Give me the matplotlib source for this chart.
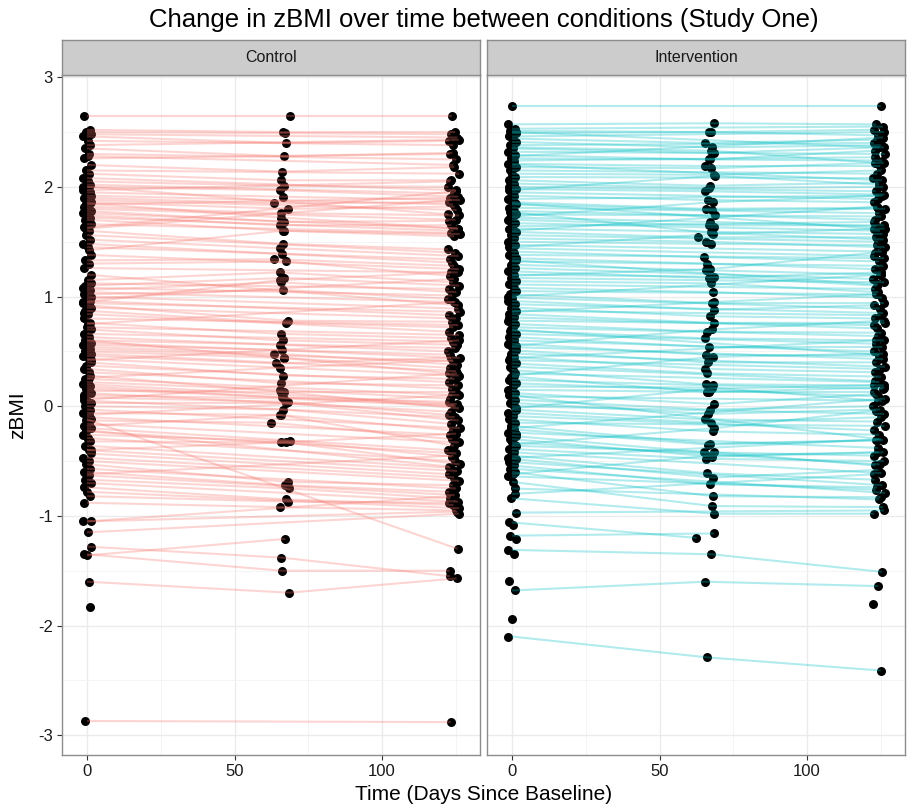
import matplotlib
matplotlib.use("Agg")
import matplotlib.pyplot as plt
from matplotlib.ticker import MultipleLocator

plt.rcParams['font.family'] = ['Liberation Sans', 'DejaVu Sans']
plt.rcParams['axes.unicode_minus'] = False

N = None

# ---- Control: zBMI at baseline / mid / final, one entry per participant
ctrl_base = [2.65, 2.52, 2.50, 2.48, 2.46, 2.42, 2.38, 2.35, 2.30, 2.26,
             2.20, 2.15, 2.12, 2.08, 2.05, 2.02, 2.00, 1.97, 1.95, 1.92,
             1.90, 1.88, 1.86, 1.84, 1.82, 1.80, 1.78, 1.76, 1.74, 1.72,
             1.70, 1.66, 1.63, 1.60, 1.56, 1.52, 1.48, 1.45, 1.38, 1.33,
             1.30, 1.26, 1.15, 1.12, 1.10, 1.08, 1.06, 1.04, 1.02, 1.00,
             0.98, 0.96, 0.94, 0.92, 0.90, 0.87, 0.84, 0.80, 0.76, 0.72,
             0.70, 0.66, 0.63, 0.60, 0.58, 0.56, 0.54, 0.52, 0.50, 0.48,
             0.46, 0.43, 0.40, 0.37, 0.34, 0.31, 0.28, 0.25, 0.22, 0.20,
             0.18, 0.16, 0.14, 0.12, 0.10, 0.08, 0.05, 0.03, 0.00, -0.03,
             -0.06, -0.10, -0.12, -0.13, -0.16, -0.18, -0.20, -0.23, -0.26, -0.29,
             -0.32, -0.36, -0.40, -0.43, -0.47, -0.50, -0.53, -0.57, -0.60, -0.63,
             -0.67, -0.70, -0.74, -0.78, -0.82, -0.88, -1.05, -1.05, -1.15, -1.28,
             -1.36, -1.35, -1.60, -1.83, -2.87, 2.28, 2.00, 1.85, 1.62, 1.42,
             1.20, 0.95, 0.75, 0.60, 0.42, 0.26, 0.06, -0.08, -0.22, -0.40,
             -0.62, 1.95, 0.85, -0.30]
ctrl_mid = [2.65, 2.50, 2.49, N, 2.40, N, N, 2.28, N, N,
            2.14, N, 2.06, N, 2.01, N, 1.97, N, 1.91, N,
            1.85, N, 1.80, N, 1.76, N, 1.68, N, 1.65, N,
            1.60, N, N, 1.48, N, 1.44, N, 1.39, N, 1.34,
            1.32, N, 1.22, N, 1.17, N, 1.13, N, 1.06, N,
            N, N, N, 0.78, N, 0.76, N, N, 0.66, N,
            0.60, N, 0.56, N, 0.51, N, 0.48, N, 0.44, N,
            0.39, N, 0.28, N, 0.21, N, 0.13, N, 0.15, N,
            0.08, N, 0.13, N, 0.07, 0.04, N, 0.03, -0.03, N,
            -0.08, N, N, -0.15, N, -0.08, N, N, -0.32, N,
            -0.33, N, N, N, N, N, -0.69, N, -0.72, N,
            -0.75, N, -0.85, N, -0.87, -0.92, N, N, N, -1.38,
            -1.21, -1.50, -1.70, N, N, N, N, 1.72, N, 1.60,
            N, 1.15, N, 0.44, N, 0.35, N, N, N, -0.33,
            N, N, N, N]
ctrl_end = [2.65, 2.50, 2.48, 2.45, 2.42, 2.38, 2.43, 2.31, 2.25, 2.30,
            2.18, 2.12, 2.06, 1.97, 2.00, 1.94, 1.91, 2.05, 1.88, 1.84,
            1.86, 1.79, 1.82, 1.90, 1.74, 1.70, 1.69, 1.62, 1.65, 1.60,
            1.57, 1.58, 1.96, 1.43, 1.40, 1.37, 1.31, 1.34, 1.25, 1.28,
            1.19, 1.22, 1.13, 1.07, 1.10, 1.01, 1.04, 0.95, 0.98, 0.89,
            1.16, 0.83, 0.86, 0.77, 0.80, 0.72, 0.68, 0.74, 0.62, 0.65,
            0.56, 0.59, 0.50, 0.53, 0.44, 0.47, 0.38, 0.41, 0.35, 0.32,
            0.44, 0.28, 0.25, 0.22, 0.19, 0.16, 0.13, 0.10, 0.07, 0.02,
            0.04, 0.01, -0.02, -0.05, 0.00, -0.08, -0.10, -0.13, -0.16, -0.20,
            -0.22, -0.26, -1.30, -0.30, -0.33, -0.36, -0.40, -0.43, -0.46, -0.50,
            -0.53, -0.56, -0.59, -0.62, -0.65, -0.68, -0.72, -0.75, -0.78, -0.81,
            -0.84, -0.87, -0.90, -0.93, -0.88, -0.95, -0.82, -0.96, -0.98, -1.55,
            N, -1.50, -1.57, N, -2.88, 2.20, 1.75, 1.62, 1.88, 1.55,
            0.92, 1.22, 0.95, 0.30, 0.60, 0.42, 0.30, 0.10, -0.55, -0.25,
            -0.45, N, N, N]
# days since baseline at which each point sits (jittered as in the picture)
ctrl_base_day = [-1.2, 0.9, -0.5, 1.3, -1.4, 0.3, 1.0, -0.8, 0.6, -1.1,
                 1.4, -0.2, 0.8, -1.3, 0.4, 1.1, -0.6, -1.5, 0.7, 1.5,
                 -0.9, 0.1, 1.2, -0.3, -1.0, 0.6, 1.4, -1.5, 0.0, 0.9,
                 -0.7, 1.3, -1.2, 0.5, -0.4, 1.1, -1.4, 0.2, 1.5, -0.8,
                 0.8, -1.1, 0.3, 1.2, -0.6, -1.3, 0.9, 0.1, -0.9, 1.4,
                 -0.2, 1.0, -1.5, 0.6, 1.3, -0.7, 0.4, -1.2, 1.1, -0.1,
                 1.5, -1.0, 0.7, -0.5, 1.2, -1.4, 0.2, 0.9, -0.8, 1.3,
                 -1.3, 0.5, 1.4, -0.3, -1.1, 0.8, 1.0, -0.6, 0.3, -1.5,
                 1.1, -0.4, 0.6, 1.5, -0.9, -1.2, 0.1, 1.3, -0.7, 0.9,
                 -1.4, 0.4, 1.2, -0.2, 0.7, -1.0, 1.4, -0.5, -1.3, 0.2,
                 1.0, -0.8, 0.5, 1.3, -1.5, 0.8, -0.3, 1.1, -1.1, 0.6,
                 -0.6, 1.5, -1.2, 0.0, 0.9, -0.9, 1.2, -1.4, 0.4, 1.4,
                 -0.1, -1.0, 0.7, 1.1, -0.7, 0.3, -1.3, 1.0, -0.4, 0.5,
                 1.3, -1.5, 0.2, -0.8, 1.2, 0.8, -1.1, 0.6, -0.2, 1.4,
                 -0.5, 0.9, -1.2, 0.3]
ctrl_mid_day = [68.9, 66.5, 67.2, 65.8, 67.6, 66.0, 68.2, 66.8, 65.5, 67.9,
                66.2, 67.4, 65.9, 68.1, 66.6, 67.0, 65.3, 68.5, 66.4, 67.7,
                63.2, 67.3, 68.0, 66.1, 65.8, 67.5, 66.7, 68.3, 65.4, 67.1,
                66.9, 65.7, 68.4, 66.3, 67.8, 65.5, 67.2, 66.0, 68.6, 63.4,
                67.4, 66.2, 65.3, 67.9, 66.8, 68.1, 65.6, 67.0, 66.5, 68.3,
                65.8, 67.6, 66.1, 68.0, 65.4, 67.3, 66.9, 68.5, 65.7, 67.1,
                66.4, 68.2, 65.5, 67.7, 66.0, 68.4, 63.3, 67.5, 66.6, 68.7,
                64.0, 67.2, 66.3, 68.1, 65.6, 67.8, 66.8, 68.6, 65.4, 67.0,
                66.1, 68.3, 65.9, 67.4, 66.7, 68.0, 65.2, 67.6, 66.4, 68.2,
                65.7, 67.1, 66.9, 62.5, 68.4, 65.5, 67.9, 66.2, 68.8, 65.8,
                67.3, 66.0, 68.5, 65.6, 67.7, 66.6, 68.1, 65.3, 67.0, 66.8,
                68.6, 65.9, 67.5, 66.3, 68.2, 65.4, 67.8, 66.5, 68.0, 65.7,
                67.2, 66.1, 68.4, 65.6, 67.4, 66.9, 68.3, 65.8, 67.6, 66.4,
                68.1, 65.5, 67.9, 66.7, 68.5, 65.3, 67.1, 66.2, 68.7, 65.9,
                67.5, 66.6, 68.0, 65.4]
ctrl_end_day = [123.6, 124.8, 123.2, 125.5, 122.7, 124.1, 126.0, 123.9, 125.2, 122.9,
                124.5, 126.2, 123.4, 125.0, 122.5, 124.3, 125.8, 123.0, 126.4, 124.0,
                122.8, 125.3, 124.6, 123.1, 126.1, 124.9, 122.6, 125.7, 123.5, 124.2,
                126.3, 123.3, 125.1, 122.4, 124.7, 125.9, 123.7, 122.9, 126.0, 124.4,
                123.0, 125.6, 124.0, 122.7, 126.2, 123.8, 125.2, 124.5, 122.5, 125.9,
                124.3, 122.8, 126.4, 123.6, 125.0, 124.1, 122.6, 125.8, 123.2, 126.1,
                125.4, 123.9, 122.5, 124.8, 126.3, 123.1, 125.5, 124.2, 122.9, 125.1,
                123.4, 126.0, 124.6, 122.7, 125.7, 123.7, 124.9, 126.2, 123.0, 125.3,
                122.8, 124.4, 126.1, 123.5, 125.0, 122.6, 124.7, 125.9, 123.3, 126.4,
                124.0, 122.9, 125.6, 123.8, 126.0, 124.3, 122.5, 125.2, 123.6, 124.8,
                126.3, 123.2, 125.4, 122.8, 124.5, 126.1, 123.9, 125.0, 122.7, 124.6,
                123.1, 125.8, 124.2, 126.2, 122.6, 124.9, 123.4, 125.5, 126.0, 123.0,
                124.7, 122.9, 125.3, 123.7, 123.3, 124.1, 122.5, 125.7, 123.5, 124.4,
                125.9, 123.3, 124.8, 122.7, 126.1, 124.0, 125.4, 123.8, 122.8, 125.1,
                124.3, 126.0, 123.6, 125.2]

# ---- Intervention
int_base = [2.74, 2.57, 2.53, 2.51, 2.49, 2.46, 2.44, 2.41, 2.38, 2.35,
            2.32, 2.29, 2.26, 2.24, 2.21, 2.18, 2.15, 2.12, 2.09, 2.06,
            2.03, 2.00, 1.98, 1.95, 1.92, 1.89, 1.86, 1.84, 1.81, 1.78,
            1.75, 1.72, 1.70, 1.67, 1.64, 1.62, 1.59, 1.56, 1.53, 1.50,
            1.47, 1.44, 1.41, 1.38, 1.35, 1.32, 1.29, 1.26, 1.23, 1.20,
            1.17, 1.14, 1.11, 1.08, 1.05, 1.02, 0.99, 0.96, 0.93, 0.90,
            0.87, 0.84, 0.81, 0.78, 0.75, 0.72, 0.69, 0.66, 0.63, 0.60,
            0.57, 0.54, 0.51, 0.48, 0.45, 0.42, 0.39, 0.36, 0.33, 0.30,
            0.27, 0.24, 0.21, 0.18, 0.15, 0.12, 0.09, 0.06, 0.03, 0.00,
            -0.03, -0.06, -0.09, -0.12, -0.15, -0.18, -0.21, -0.24, -0.27, -0.30,
            -0.33, -0.36, -0.39, -0.42, -0.45, -0.48, -0.51, -0.54, -0.57, -0.60,
            -0.64, -0.69, -0.75, -0.84, -0.97, -1.06, -1.08, -1.18, -1.21, -1.31,
            -1.35, -1.59, -1.68, -1.94, -2.10, N, 2.50, 2.36, 2.20, 1.97,
            1.85, 1.77, 1.60, 1.45, 1.33, 1.19, 1.00, 0.86, 0.70, 0.55,
            0.44, 0.28, 0.10, -0.02, -0.20, -0.35, -0.47, -0.62, -0.80, 2.05,
            1.40, 0.80, -0.25, 1.73, 2.28]
int_mid = [N, 2.58, N, 2.50, 2.50, N, 2.40, 2.36, N, 2.31,
           N, 2.25, 2.25, N, 2.19, 2.17, N, 2.11, N, 2.01,
           1.99, N, 1.96, N, 1.88, N, 1.80, 1.79, N, 1.74,
           N, 1.68, 1.65, 1.63, N, 1.59, 1.54, N, 1.50, 1.48,
           N, N, 1.36, N, 1.30, N, 1.24, N, 1.17, 1.18,
           N, 1.12, N, 1.04, N, 0.94, N, 0.88, N, 0.82,
           N, 0.76, N, N, 0.68, N, 0.62, N, 0.54, N,
           0.47, N, 0.40, N, 0.34, N, 0.30, N, 0.20, N,
           0.13, 0.19, N, 0.17, 0.13, 0.02, N, -0.03, -0.07, N,
           -0.12, -0.15, N, -0.23, N, -0.34, -0.35, N, -0.42, -0.46,
           N, -0.42, -0.48, N, -0.61, -0.65, N, -0.71, N, -0.82,
           N, -0.91, N, -0.98, N, -1.20, N, -1.16, N, -1.35,
           N, N, -1.60, N, -2.29, N, N, 2.33, N, 2.10,
           N, 1.58, N, 1.57, N, 1.25, N, 0.95, N, 0.70,
           N, 0.45, N, 0.16, N, -0.20, N, -0.45, N, N,
           N, N, N, 1.86, N]
int_end = [2.74, 2.57, 2.55, 2.52, 2.47, 2.50, 2.43, 2.38, 2.40, 2.36,
           2.30, 2.33, 2.24, 2.27, 2.19, 2.22, 2.12, 2.15, 2.08, 2.04,
           2.00, 1.96, 1.93, 1.89, 1.86, 1.92, 1.81, 1.80, 1.76, 1.70,
           1.73, 1.64, 1.65, 1.60, 1.68, 1.57, 1.54, 1.50, 1.45, 1.47,
           1.41, 1.37, 1.32, 1.35, 1.25, 1.28, 1.20, 1.16, 1.22, 1.10,
           1.13, 1.04, 1.07, 0.99, 1.02, 0.94, 0.89, 0.92, 0.85, 0.80,
           0.83, 0.76, 0.71, 0.74, 0.67, 0.64, 0.60, 0.57, 0.54, 0.50,
           0.46, 0.43, 0.40, 0.36, 0.31, 0.34, 0.27, 0.23, 0.19, 0.22,
           0.13, 0.16, 0.09, 0.05, 0.17, 0.11, 0.05, 0.00, -0.03, -0.07,
           -0.14, -0.10, -0.22, -0.26, -0.18, -0.31, -0.31, -0.38, -0.45, -0.42,
           -0.53, -0.54, -0.50, -0.61, -0.67, -0.58, -0.72, -0.74, -0.79, -0.83,
           -0.76, -0.92, -0.85, -0.98, -0.95, N, N, N, N, -1.51,
           N, N, -1.64, N, -2.41, -1.80, 2.36, 2.22, 2.06, 2.02,
           1.62, 1.52, 1.82, 1.62, 1.11, 1.40, 1.20, 1.02, 0.47, 0.78,
           0.60, 0.48, -0.30, 0.19, 0.07, -0.04, -0.30, -0.42, -0.62, N,
           N, N, N, 1.92, 2.45]
int_base_day = [-0.1, -1.4, 0.9, -0.6, 1.2, -1.1, 0.4, 1.5, -0.8, 0.2,
                -1.3, 1.0, -0.3, 0.7, -1.5, 1.3, -0.7, 0.1, 1.1, -1.0,
                0.5, -1.2, 1.4, -0.4, 0.8, -1.5, 0.3, 1.2, -0.9, 0.6,
                1.5, -0.6, -1.3, 0.9, 0.0, -1.0, 1.3, -0.2, 0.7, -1.4,
                1.1, -0.8, 0.4, -1.2, 1.4, 0.2, -0.5, 1.0, -1.5, 0.6,
                -0.3, 1.2, -1.1, 0.8, 1.5, -0.7, 0.1, -1.4, 0.9, -0.2,
                1.3, -0.9, 0.5, -1.3, 1.1, 0.3, -0.6, 1.4, -1.0, 0.7,
                -1.5, 0.0, 1.2, -0.4, 0.8, -1.2, 1.5, -0.8, 0.2, 1.0,
                -0.5, -1.1, 1.3, 0.4, -1.4, 0.9, -0.1, 1.1, -0.7, 0.6,
                1.4, -1.3, 0.3, -0.9, 1.0, -0.2, 0.7, -1.5, 1.2, -0.6,
                0.1, 1.5, -1.0, 0.5, -0.4, 1.3, -1.2, 0.8, -0.8, 1.1,
                -1.4, 0.4, 0.9, -0.3, 1.4, -1.1, 0.2, -0.7, 1.2, -1.5,
                0.6, -0.9, 1.0, -0.1, -1.3, 0.3, 1.5, -0.5, 0.8, -1.2,
                1.1, -0.6, 0.4, -1.0, 1.3, 0.0, -1.4, 0.7, -0.3, 1.2,
                -0.8, 0.5, -1.1, 1.4, -0.2, 0.9, -1.5, 0.2, 1.0, -0.7,
                0.6, -1.2, 1.3, -0.4, 0.8]
int_mid_day = [66.0, 68.4, 65.7, 67.3, 66.9, 68.0, 65.4, 67.8, 66.3, 68.6,
               65.9, 67.1, 66.6, 68.2, 65.5, 67.6, 66.1, 68.5, 65.8, 67.0,
               66.8, 68.3, 65.3, 67.4, 66.4, 68.1, 65.6, 67.9, 66.2, 68.7,
               65.9, 67.2, 66.7, 68.4, 65.4, 67.5, 63.0, 68.0, 65.7, 67.3,
               66.5, 68.6, 65.2, 67.7, 66.0, 68.2, 65.8, 67.1, 66.9, 68.5,
               65.5, 67.4, 66.3, 68.1, 65.6, 67.9, 66.6, 68.3, 65.3, 67.0,
               66.8, 68.4, 65.9, 67.6, 66.1, 68.0, 65.4, 67.2, 66.7, 68.6,
               65.7, 67.8, 66.4, 68.2, 65.5, 67.3, 66.0, 68.5, 65.8, 67.5,
               66.9, 68.1, 65.3, 67.7, 66.2, 68.4, 65.6, 67.0, 66.5, 68.7,
               65.4, 67.6, 66.8, 68.0, 65.9, 67.2, 66.3, 68.3, 65.2, 67.9,
               66.6, 68.5, 65.7, 67.4, 66.0, 68.2, 65.5, 67.1, 66.9, 68.0,
               63.5, 67.8, 66.4, 68.6, 65.3, 62.5, 66.1, 68.4, 65.8, 67.6,
               66.7, 68.1, 65.4, 67.0, 66.2, 68.3, 65.6, 67.5, 66.5, 68.7,
               65.9, 67.7, 66.3, 68.0, 65.5, 67.2, 66.8, 68.5, 65.2, 67.9,
               66.0, 68.2, 65.7, 67.4, 66.6, 68.6, 65.3, 67.1, 66.9, 68.3,
               65.8, 67.6, 66.4, 68.0, 65.5]
int_end_day = [124.9, 123.4, 125.7, 122.8, 124.2, 126.1, 123.6, 125.0, 122.6, 124.6,
               126.3, 123.1, 125.4, 122.9, 124.8, 126.0, 123.8, 125.2, 122.5, 124.3,
               125.8, 123.3, 126.2, 124.0, 122.7, 125.5, 123.9, 126.4, 124.5, 122.9,
               125.1, 123.5, 126.0, 124.7, 122.6, 125.6, 123.2, 124.1, 126.3, 123.7,
               125.3, 122.8, 124.4, 126.1, 123.0, 125.9, 124.8, 122.5, 125.0, 123.6,
               126.2, 124.2, 122.9, 125.4, 123.4, 126.0, 124.6, 122.7, 125.7, 123.1,
               124.9, 126.3, 123.8, 122.6, 125.2, 124.0, 126.1, 123.3, 125.5, 122.8,
               124.3, 125.8, 123.5, 126.4, 122.9, 124.7, 125.1, 123.0, 126.0, 124.5,
               122.7, 125.6, 123.9, 124.1, 126.2, 123.2, 125.3, 122.5, 124.8, 126.1,
               123.6, 125.0, 122.8, 124.4, 126.3, 123.4, 125.7, 124.0, 122.6, 125.9,
               124.6, 123.1, 126.0, 125.2, 122.9, 124.2, 125.5, 123.7, 126.4, 124.9,
               123.3, 125.8, 124.3, 122.7, 126.1, 123.9, 125.0, 124.7, 122.5, 125.4,
               126.2, 123.5, 124.1, 125.6, 125.0, 122.3, 126.0, 123.0, 125.3, 124.4,
               122.6, 125.9, 123.8, 126.3, 124.0, 122.9, 125.1, 123.6, 124.6, 126.1,
               123.2, 125.7, 124.5, 122.7, 126.4, 123.4, 125.2, 124.2, 122.8, 125.5,
               124.9, 123.1, 126.0, 124.3, 125.8]

panels = ["Control", "Intervention"]
line_colours = ["#F8766D", "#00BFC4"]

W, H = 907, 811
fig = plt.figure(figsize=(W / 100, H / 100), dpi=100)


def draw_panel(ax, base, mid, end, bday, mday, eday, colour):
    # points first, then lines over them (as in the original)
    px, py = [], []
    for i in range(len(base)):
        for x, y in ((bday[i], base[i]), (mday[i], mid[i]), (eday[i], end[i])):
            if y is not None:
                px.append(x)
                py.append(y)
    ax.scatter(px, py, s=42, color="black", zorder=2, linewidths=0)
    for i in range(len(base)):
        xs, ys = [], []
        if base[i] is not None:
            xs.append(0)
            ys.append(base[i])
        if mid[i] is not None:
            xs.append(mday[i])
            ys.append(mid[i])
        if end[i] is not None:
            xs.append(eday[i])
            ys.append(end[i])
        if len(xs) > 1:
            ax.plot(xs, ys, color=colour, alpha=0.3, lw=1.5, zorder=3,
                    solid_capstyle="butt")


data = [
    (ctrl_base, ctrl_mid, ctrl_end, ctrl_base_day, ctrl_mid_day, ctrl_end_day),
    (int_base, int_mid, int_end, int_base_day, int_mid_day, int_end_day),
]
lefts = [62, 487]
pw = 418
for k in range(2):
    ax = fig.add_axes([lefts[k] / W, 56 / H, pw / W, 680 / H])
    draw_panel(ax, *data[k], line_colours[k])
    ax.set_xlim(-8.5, 133.2)
    ax.set_ylim(-3.18, 3.02)
    ax.xaxis.set_major_locator(MultipleLocator(50))
    ax.xaxis.set_minor_locator(MultipleLocator(25))
    ax.yaxis.set_major_locator(MultipleLocator(1))
    ax.yaxis.set_minor_locator(MultipleLocator(0.5))
    ax.grid(which="major", color="#EBEBEB", lw=1.0, zorder=0)
    ax.grid(which="minor", color="#F3F3F3", lw=0.6, zorder=0)
    ax.set_axisbelow(True)
    for sp in ax.spines.values():
        sp.set_color("#8C8C8C")
        sp.set_linewidth(1.0)
    ax.tick_params(which="major", length=3.5, width=0.8, color="#333333",
                   labelsize=12, labelcolor="#1A1A1A", pad=3)
    ax.tick_params(which="minor", length=0)
    if k == 1:
        ax.tick_params(axis="y", which="major", length=0, labelleft=False)

    sx = fig.add_axes([lefts[k] / W, (H - 75) / H, pw / W, 35 / H])
    sx.set_facecolor("#CCCCCC")
    sx.set_xticks([])
    sx.set_yticks([])
    for sp in sx.spines.values():
        sp.set_color("#8C8C8C")
        sp.set_linewidth(1.0)
    sx.text(0.5, 0.5, panels[k], ha="center", va="center", fontsize=11.5,
            color="#1A1A1A", transform=sx.transAxes)

fig.text(0.5 * (62 + 905) / W, (H - 20) / H,
         "Change in zBMI over time between conditions (Study One)",
         ha="center", va="center", fontsize=18.5, color="black")
fig.text(0.5 * (62 + 905) / W, (H - 795) / H, "Time (Days Since Baseline)",
         ha="center", va="center", fontsize=15, color="black")
fig.text(18 / W, (H - 415) / H, "zBMI", ha="center", va="center",
         rotation=90, fontsize=15, color="black")

fig.savefig("out.png", dpi=100)
